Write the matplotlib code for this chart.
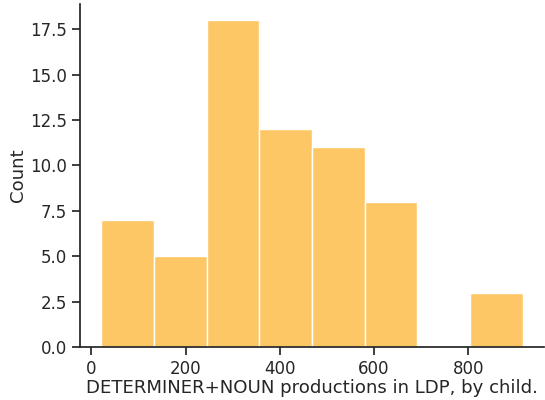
import numpy as np
import seaborn as sns
from matplotlib import pyplot as plt

# bin edges (approx) and per-bin counts
bin_edges = [21, 133, 245, 357, 469, 580, 692, 804, 916]
counts = [7, 5, 18, 12, 11, 8, 0, 3]

sns.set_theme(style="ticks", context="notebook")
plt.rcParams['font.family'] = ['DejaVu Sans']

fig, ax = plt.subplots(figsize=(5.45, 4), dpi=100)

centers = [(bin_edges[i] + bin_edges[i + 1]) / 2 for i in range(len(counts))]
ax.hist(centers, bins=bin_edges, weights=counts, color="#fec765",
        edgecolor="white", linewidth=1)

ax.set_xlabel("DETERMINER+NOUN productions in LDP, by child.", fontsize=13.1, labelpad=0.5)
ax.set_ylabel("Count", fontsize=13.1, labelpad=2)
ax.set_xticks([0, 200, 400, 600, 800])
ax.set_yticks(np.arange(0, 18, 2.5))
ax.tick_params(labelsize=12)
sns.despine(ax=ax)

fig.subplots_adjust(left=0.147, right=0.998, top=0.991, bottom=0.132)
fig.savefig("out.png", dpi=100)
